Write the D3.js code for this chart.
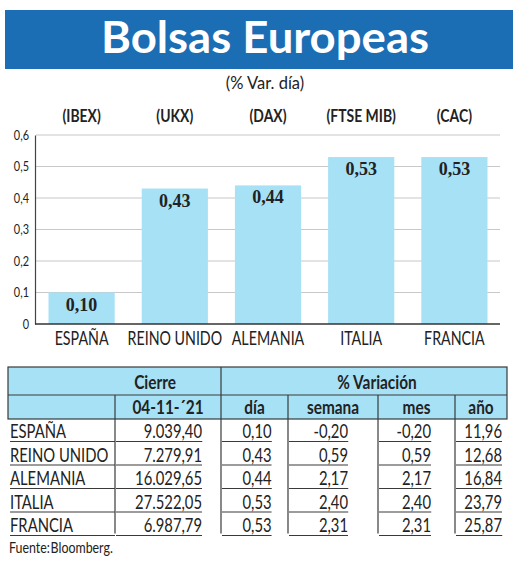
<!DOCTYPE html>
<html lang="es">
  <head>
    <meta charset="UTF-8" />
    <title>Bolsas Europeas</title>
    <style>
      body { margin: 0; background: #fff; }
      svg { display: block; }
      .cond { font-family: Lato, "Liberation Sans", sans-serif; }
    </style>
    <script src="https://d3js.org/d3.v7.min.js"></script>
  </head>
  <body>
    <svg width="520" height="562"></svg>
    <script>
      // datos
      var countries = ["ESPAÑA", "REINO UNIDO", "ALEMANIA", "ITALIA", "FRANCIA"];
      var codes = ["(IBEX)", "(UKX)", "(DAX)", "(FTSE MIB)", "(CAC)"];
      var dayVar = [0.1, 0.43, 0.44, 0.53, 0.53];
      var closeVals = [9039.4, 7279.91, 16029.65, 27522.05, 6987.79];
      var weekVar = [-0.2, 0.59, 2.17, 2.4, 2.31];
      var monthVar = [-0.2, 0.59, 2.17, 2.4, 2.31];
      var yearVar = [11.96, 12.68, 16.84, 23.79, 25.87];
      var yTicks = [0, 0.1, 0.2, 0.3, 0.4, 0.5, 0.6];
      var closeDate = "04-11-´21";

      var es = d3.formatLocale({
        decimal: ",",
        thousands: ".",
        grouping: [3],
        currency: ["", " €"],
        minus: "-",
      });
      var f2 = es.format(",.2f");
      var fTick = es.format(".1~f");

      // estrechar el texto (la fuente original es condensada)
      function squeeze(sel, sx) {
        sel.each(function () {
          var t = d3.select(this);
          var x0 = +t.attr("x") || 0;
          t.attr("transform", "translate(" + x0 + ",0) scale(" + sx + ",1)").attr("x", 0);
        });
      }

      var svg = d3.select("svg");
      var blue = "#1b6db4";
      var light = "#a6e1f6";
      var ink = "#222";

      // cabecera
      svg.append("rect").attr("x", 5).attr("y", 10).attr("width", 508).attr("height", 59).attr("fill", blue);
      svg
        .append("text")
        .attr("x", 265)
        .attr("y", 53)
        .attr("text-anchor", "middle")
        .attr("fill", "#fff")
        .attr("font-family", "Lato, 'Open Sans', sans-serif")
        .attr("font-weight", 700)
        .attr("font-size", 44)
        .attr("textLength", 328)
        .attr("lengthAdjust", "spacingAndGlyphs")
        .text("Bolsas Europeas");

      svg
        .append("text")
        .attr("class", "cond")
        .attr("x", 265)
        .attr("y", 89)
        .attr("text-anchor", "middle")
        .attr("font-size", 16.5)
        .attr("fill", ink)
        .text("(% Var. día)");

      // grafico
      var x = d3.scaleBand().domain(countries).range([35, 501]).paddingInner(0.29).paddingOuter(0.145);
      var y = d3.scaleLinear().domain([0, 0.6]).range([324, 135]);

      svg
        .append("g")
        .selectAll("line")
        .data(yTicks.slice(1))
        .join("line")
        .attr("x1", 36)
        .attr("x2", 500)
        .attr("y1", (d) => y(d))
        .attr("y2", (d) => y(d))
        .attr("stroke", "#c8c8c8")
        .attr("stroke-width", 1.2);

      var yAxis = svg
        .append("g")
        .attr("class", "cond")
        .attr("transform", "translate(35,0)")
        .call(d3.axisLeft(y).tickValues(yTicks).tickFormat(fTick).tickSize(0).tickPadding(6));
      yAxis.select(".domain").attr("stroke", "#444").attr("stroke-width", 1.2);
      yAxis.selectAll("text").attr("font-size", 13).attr("fill", ink).attr("font-family", null).call(squeeze, 0.84);

      svg
        .append("g")
        .selectAll("rect")
        .data(dayVar)
        .join("rect")
        .attr("x", (d, i) => x(countries[i]))
        .attr("y", (d) => y(d))
        .attr("width", x.bandwidth())
        .attr("height", (d) => y(0) - y(d))
        .attr("fill", light);

      var xAxis = svg
        .append("g")
        .attr("class", "cond")
        .attr("transform", "translate(0," + y(0) + ")")
        .call(d3.axisBottom(x).tickSize(0).tickPadding(8));
      xAxis.select(".domain").attr("d", "M35,0H500").attr("stroke", "#333").attr("stroke-width", 1.5);
      xAxis.selectAll("text").attr("font-size", 18.5).attr("fill", ink).attr("font-family", null).call(squeeze, 0.77);

      svg
        .append("g")
        .selectAll("text")
        .data(dayVar)
        .join("text")
        .attr("x", (d, i) => x(countries[i]) + x.bandwidth() / 2)
        .attr("y", (d) => y(d) + 18)
        .attr("text-anchor", "middle")
        .attr("font-family", "'Liberation Serif', 'DejaVu Serif', serif")
        .attr("font-weight", 700)
        .attr("font-size", 18)
        .attr("fill", ink)
        .text((d) => f2(d));

      svg
        .append("g")
        .attr("class", "cond")
        .selectAll("text")
        .data(codes)
        .join("text")
        .attr("x", (d, i) => x(countries[i]) + x.bandwidth() / 2)
        .attr("y", 122)
        .attr("text-anchor", "middle")
        .attr("font-weight", 700)
        .attr("font-size", 17)
        .attr("fill", ink)
        .text((d) => d)
        .call(squeeze, 0.82);

      // tabla
      var cols = [8, 115, 221, 288, 378, 455, 507];
      var tTop = 367, tMid = 395, tHead = 419, rowH = 23.5;
      var line = "#3a3a3a";
      var tg = svg.append("g").attr("class", "cond");

      tg.append("rect").attr("x", cols[0]).attr("y", tTop).attr("width", cols[6] - cols[0]).attr("height", tHead - tTop)
        .attr("fill", light).attr("stroke", line).attr("stroke-width", 1.2);
      tg.append("line").attr("x1", cols[0]).attr("x2", cols[6]).attr("y1", tMid).attr("y2", tMid).attr("stroke", line).attr("stroke-width", 1.2);

      var tBottom = tHead + rowH * countries.length;
      tg.selectAll(".vh")
        .data(cols.slice(1, 6))
        .join("line")
        .attr("x1", (d) => d)
        .attr("x2", (d) => d)
        .attr("y1", (d) => (d === 221 ? tTop : tMid))
        .attr("y2", tBottom - 3)
        .attr("stroke", line)
        .attr("stroke-width", 1.2);

      var head = { "font-size": 19, "font-weight": 700, fill: ink, "text-anchor": "middle" };
      function put(t, xx, yy, opts, sx) {
        var el = tg.append("text").attr("x", xx).attr("y", yy).text(t);
        for (var k in opts) el.attr(k, opts[k]);
        el.call(squeeze, sx || 0.81);
        return el;
      }
      put("Cierre", 155, 389, head);
      put("% Variación", 377, 389, head);
      var sub = [closeDate, "día", "semana", "mes", "año"];
      sub.forEach((s, i) => put(s, (cols[i + 1] + cols[i + 2]) / 2, 414, head));

      var cell = { "font-size": 18.5, fill: ink };
      countries.forEach((c, r) => {
        var base = tHead + rowH * (r + 1) - 4;
        var uy = base + 3;
        var vals = [
          [c, cols[0] + 2, "start"],
          [f2(closeVals[r]), 202, "end"],
          [f2(dayVar[r]), 257, "middle"],
          [f2(weekVar[r]), 348, "end"],
          [f2(monthVar[r]), 431, "end"],
          [f2(yearVar[r]), 502, "end"],
        ];
        vals.forEach((v, j) => {
          var el = put(v[0], v[1], base, Object.assign({ "text-anchor": v[2] }, cell), 0.8);
          var right = el.node().getBoundingClientRect().right;
          var x0 = j === 0 ? cols[0] + 2 : cols[j] + 1;
          var x1 = j === 0 ? cols[1] : right;
          tg.append("line").attr("x1", x0).attr("x2", x1).attr("y1", uy).attr("y2", uy).attr("stroke", line).attr("stroke-width", 1.1);
        });
      });

      put("Fuente: Bloomberg.", 9, 553, { "font-size": 15.5, fill: ink, "word-spacing": -3 }, 0.8);
    </script>
  </body>
</html>
